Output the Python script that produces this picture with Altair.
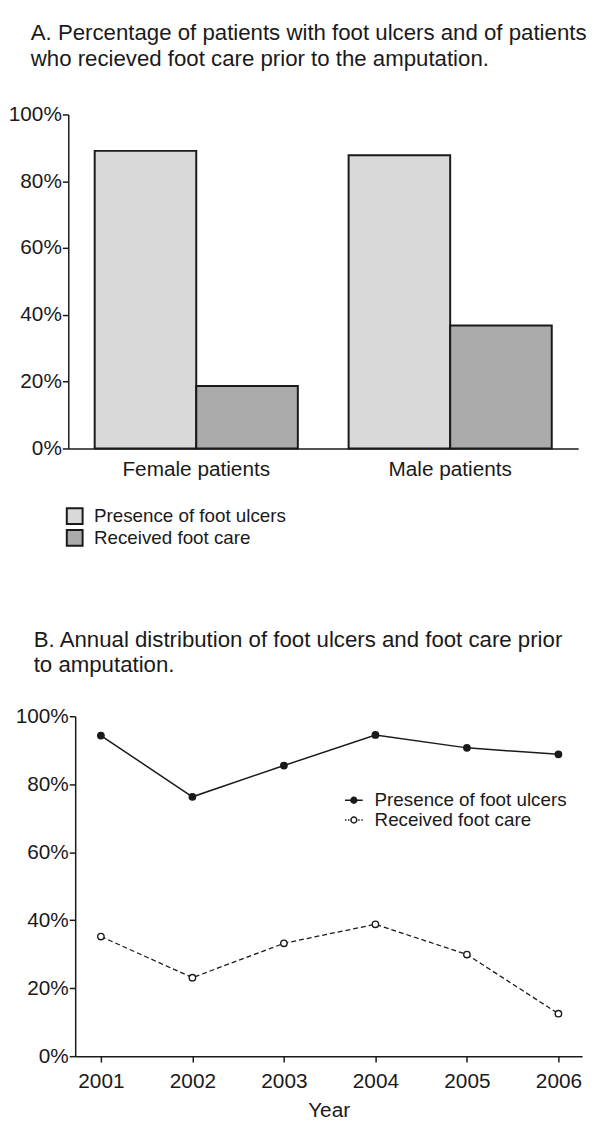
import altair as alt
import pandas as pd

FONT = "Liberation Sans"
INK = "#1a1a1a"

# ---- Panel A data ----
GROUPS = ["Female patients", "Male patients"]
SERIES = ["Presence of foot ulcers", "Received foot care"]
ULCERS_BY_SEX = [0.891, 0.878]
CARE_BY_SEX = [0.187, 0.368]
BAR_COLORS = ["#d9d9d9", "#ababab"]

# ---- Panel B data ----
YEARS = [2001, 2002, 2003, 2004, 2005, 2006]
ULCERS_BY_YEAR = [0.943, 0.763, 0.855, 0.945, 0.907, 0.888]
CARE_BY_YEAR = [0.352, 0.231, 0.332, 0.388, 0.299, 0.125]

Y_TICKS = [0, 0.2, 0.4, 0.6, 0.8, 1.0]

TITLE_A = ["A. Percentage of patients with foot ulcers and of patients",
           "who recieved foot care prior to the amputation."]
TITLE_B = ["B. Annual distribution of foot ulcers and foot care prior",
           "to amputation."]

rows_a = []
for g, u, c in zip(GROUPS, ULCERS_BY_SEX, CARE_BY_SEX):
    rows_a.append({"group": g, "series": SERIES[0], "value": u})
    rows_a.append({"group": g, "series": SERIES[1], "value": c})
df_a = pd.DataFrame(rows_a)

rows_b = []
for yr, u, c in zip(YEARS, ULCERS_BY_YEAR, CARE_BY_YEAR):
    rows_b.append({"year": yr, "series": SERIES[0], "value": u})
    rows_b.append({"year": yr, "series": SERIES[1], "value": c})
df_b = pd.DataFrame(rows_b)

# ---------------- Panel A ----------------
legend_a = alt.Legend(orient="none", legendX=-3, legendY=397, title=None,
                      symbolType="square", symbolSize=256,
                      symbolStrokeColor=INK, symbolStrokeWidth=2,
                      labelFontSize=19, labelOffset=10, rowPadding=-6,
                      labelLimit=0, padding=0)

chart_a = alt.Chart(df_a).mark_bar(stroke=INK, strokeWidth=2).encode(
    x=alt.X("group:N", sort=GROUPS,
            scale=alt.Scale(paddingInner=0.2, paddingOuter=0.104),
            axis=alt.Axis(title=None, labelAngle=0, ticks=False,
                          labelPadding=10)),
    xOffset=alt.XOffset("series:N", sort=SERIES,
                        scale=alt.Scale(paddingInner=0, paddingOuter=0)),
    y=alt.Y("value:Q", scale=alt.Scale(domain=[0, 1], nice=False),
            axis=alt.Axis(values=Y_TICKS, format=".0%", title=None, grid=False,
                          tickSize=6, labelPadding=1)),
    fill=alt.Fill("series:N", sort=SERIES,
                  scale=alt.Scale(domain=SERIES, range=BAR_COLORS),
                  legend=legend_a),
).properties(
    width=516, height=338,
    title=alt.TitleParams(TITLE_A, anchor="start", frame="group", dx=-38,
                          fontSize=22.5, fontWeight="normal", font=FONT,
                          color=INK, lineHeight=26, offset=34),
)

# ---------------- Panel B ----------------
CIRCLE = "M-0.33,0A0.33,0.33,0,1,0,0.33,0A0.33,0.33,0,1,0,-0.33,0Z"
SYMBOL_SOLID = "M-1,0L-0.33,0M0.33,0L1,0" + CIRCLE
SYMBOL_DOTTED = ("M-1,0L-0.84,0M-0.66,0L-0.5,0"
                 "M0.5,0L0.66,0M0.84,0L1,0" + CIRCLE)

legend_b = alt.Legend(orient="none", legendX=279, legendY=75, title=None,
                      symbolSize=324, symbolStrokeColor=INK,
                      symbolStrokeWidth=1.5, labelFontSize=19,
                      labelOffset=11, rowPadding=-1, labelLimit=0, padding=0)

x_b = alt.X("year:Q",
            scale=alt.Scale(domain=[2000.719, 2006.259], range=[7, 520],
                            nice=False, zero=False),
            axis=alt.Axis(values=YEARS, format="d", title="Year", grid=False,
                          tickSize=6, labelPadding=9, titlePadding=8))
y_b = alt.Y("value:Q", scale=alt.Scale(domain=[0, 1], nice=False),
            axis=alt.Axis(values=Y_TICKS, format=".0%", title=None, grid=False,
                          tickSize=6, labelPadding=1, offset=-7))

base_b = alt.Chart(df_b)

line_ulcers = base_b.transform_filter(
    alt.datum.series == SERIES[0]
).mark_line(color=INK, strokeWidth=1.5).encode(x=x_b, y=y_b)

line_care = base_b.transform_filter(
    alt.datum.series == SERIES[1]
).mark_line(color=INK, strokeWidth=1.3, strokeDash=[5, 3]).encode(x=x_b, y=y_b)

points = base_b.mark_point(filled=True, size=42, stroke=INK, strokeWidth=1.4,
                           opacity=1).encode(
    x=x_b, y=y_b,
    fill=alt.Fill("series:N", sort=SERIES,
                  scale=alt.Scale(domain=SERIES, range=[INK, "white"]),
                  legend=legend_b),
)

legend_layer = base_b.transform_filter("false").mark_point(filled=True).encode(
    x=x_b, y=y_b,
    shape=alt.Shape("series:N", sort=SERIES,
                    scale=alt.Scale(domain=SERIES, range=[SYMBOL_SOLID, SYMBOL_DOTTED]),
                    legend=legend_b),
)

chart_b = alt.layer(line_ulcers, line_care, points, legend_layer).properties(
    width=520, height=344,
    title=alt.TitleParams(TITLE_B, anchor="start", frame="group", dx=-35,
                          fontSize=22.5, fontWeight="normal", font=FONT,
                          color=INK, lineHeight=26, offset=29),
)

chart = alt.vconcat(chart_a, chart_b, spacing=79).resolve_scale(
    fill="independent", shape="independent",
).resolve_legend(
    fill="independent", shape="independent",
).configure(
    font=FONT,
    padding={"left": 0, "top": 7, "right": 5, "bottom": 5},
).configure_view(stroke=None).configure_axis(
    labelFont=FONT, labelFontSize=21, labelColor=INK,
    titleFont=FONT, titleFontSize=21, titleFontWeight="normal", titleColor=INK,
    domainColor=INK, domainWidth=1.5, tickColor=INK, tickWidth=1.5,
).configure_legend(
    labelFont=FONT, labelColor=INK,
)

chart.save("out.html", embed_options={"renderer": "svg", "actions": False})
